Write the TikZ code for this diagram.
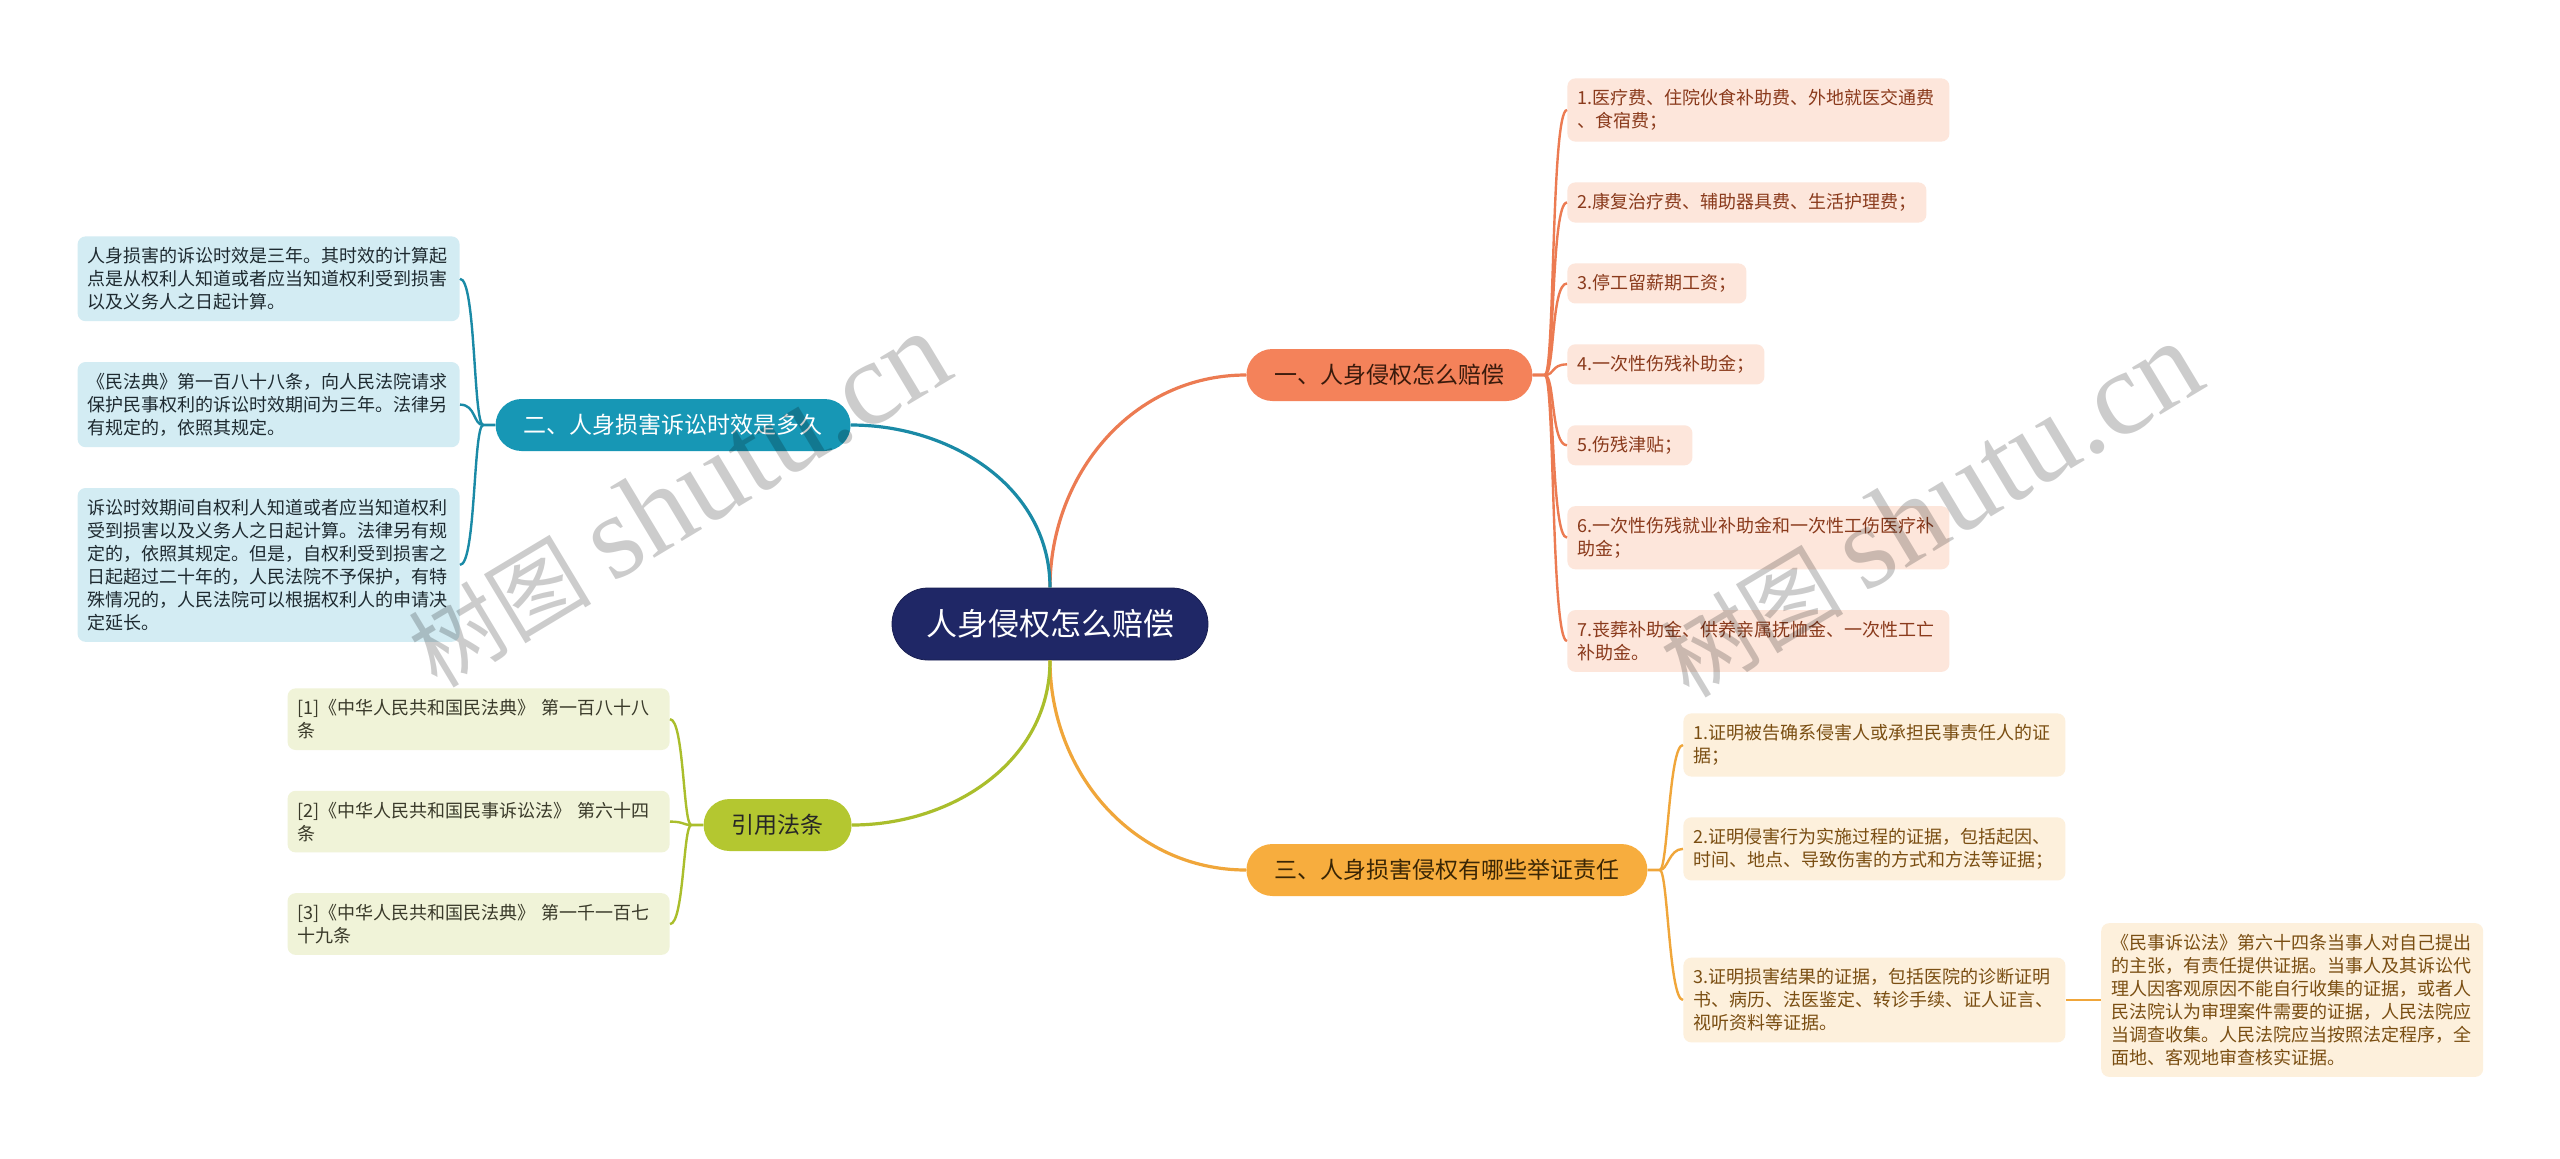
\documentclass[tikz,border=0pt]{standalone}
\usepackage{fontspec}
\setmainfont{Noto Sans CJK SC}
\newfontfamily\wmlatin{Liberation Serif}
\usetikzlibrary{positioning}
\definecolor{rootnavy}{HTML}{1F2766}
\definecolor{payfill}{HTML}{F4825A}
\definecolor{payline}{HTML}{EC7B52}
\definecolor{payleaf}{HTML}{FDE6DB}
\definecolor{paytext}{HTML}{8A3A1C}
\definecolor{paydark}{HTML}{3A1A0C}
\definecolor{termfill}{HTML}{1797B5}
\definecolor{termline}{HTML}{1A8AA6}
\definecolor{termleaf}{HTML}{D3ECF3}
\definecolor{termtext}{HTML}{1E2A30}
\definecolor{prooffill}{HTML}{F7AD3E}
\definecolor{proofline}{HTML}{F0A63A}
\definecolor{proofleaf}{HTML}{FDF0DC}
\definecolor{prooftext}{HTML}{7A4E12}
\definecolor{proofdark}{HTML}{3A2605}
\definecolor{citefill}{HTML}{B4C730}
\definecolor{citeline}{HTML}{AABE2C}
\definecolor{citeleaf}{HTML}{F0F3D8}
\definecolor{citetext}{HTML}{3A3A2A}
\hfuzz=20pt

\begin{document}
\begin{tikzpicture}[x=0.5pt, y=-0.5pt,
    root/.style={fill=rootnavy, draw=rootnavy!80!black, text=white, rounded corners=18pt,
                 minimum height=36pt, inner xsep=17pt, font=\fontsize{15.5}{18}\selectfont},
    br/.style={rounded corners=13pt, minimum height=26pt, inner xsep=14pt,
               font=\fontsize{11.5}{14}\selectfont},
    leaf/.style={rounded corners=4pt, align=left, inner xsep=5pt, inner ysep=5.5pt,
                 font=\fontsize{9}{11.5}\selectfont},
    wide/.style={leaf, text width=181pt},
    payc/.style={fill=payleaf, text=paytext},
    termc/.style={fill=termleaf, text=termtext},
    proofc/.style={fill=proofleaf, text=prooftext},
    citec/.style={fill=citeleaf, text=citetext},
    trunk/.style={line width=1.6pt},
    twig/.style={line width=1.2pt},
    wmark/.style={rotate=31, text=black, text opacity=0.2, font=\fontsize{46}{46}\selectfont}]
  \fill[white] (0,0) rectangle (2560,1158);
  \useasboundingbox (0,0) rectangle (2560,1158);

  % centre and main branches
  \node[root] (root) at (1050,624) {人身侵权怎么赔偿};
  \node[br, fill=payfill, text=paydark, anchor=west] (pay) at (1246,375) {一、人身侵权怎么赔偿};
  \node[br, fill=termfill, text=white, anchor=east] (term) at (851,425) {二、人身损害诉讼时效是多久};
  \node[br, fill=prooffill, text=proofdark, anchor=west] (proof) at (1246,870) {三、人身损害侵权有哪些举证责任};
  \node[br, fill=citefill, text=black!85, anchor=east] (cite) at (852,825) {引用法条};

  \draw[trunk, payline] (root.north) to[out=90, in=180] (pay.west);
  \draw[trunk, termline] (root.north) to[out=90, in=0] (term.east);
  \draw[trunk, proofline] (root.south) to[out=-90, in=180] (proof.west);
  \draw[trunk, citeline] (root.south) to[out=-90, in=0] (cite.east);

  % 一
  \node[wide, payc, anchor=north west] (p1) at (1567,78) {1.医疗费、住院伙食补助费、外地就医交通费\\、食宿费；};
  \node[leaf, payc, below=20pt of p1.south west, anchor=north west] (p2) {2.康复治疗费、辅助器具费、生活护理费；};
  \node[leaf, payc, below=20pt of p2.south west, anchor=north west] (p3) {3.停工留薪期工资；};
  \node[leaf, payc, below=20pt of p3.south west, anchor=north west] (p4) {4.一次性伤残补助金；};
  \node[leaf, payc, below=20pt of p4.south west, anchor=north west] (p5) {5.伤残津贴；};
  \node[wide, payc, below=20pt of p5.south west, anchor=north west] (p6) {6.一次性伤残就业补助金和一次性工伤医疗补\\助金；};
  \node[wide, payc, below=20pt of p6.south west, anchor=north west] (p7) {7.丧葬补助金、供养亲属抚恤金、一次性工亡\\补助金。};
  \foreach \i in {1,...,7}
    \draw[twig, payline] (pay.east) -- ++(12,0) .. controls +(10,0) and +(-16,0) .. (p\i.west);

  % 二
  \node[wide, termc, anchor=north east] (t1) at (460,236) {人身损害的诉讼时效是三年。其时效的计算起\\点是从权利人知道或者应当知道权利受到损害\\以及义务人之日起计算。};
  \node[wide, termc, below=20pt of t1.south east, anchor=north east] (t2) {《民法典》第一百八十八条，向人民法院请求\\保护民事权利的诉讼时效期间为三年。法律另\\有规定的，依照其规定。};
  \node[wide, termc, below=20pt of t2.south east, anchor=north east] (t3) {诉讼时效期间自权利人知道或者应当知道权利\\受到损害以及义务人之日起计算。法律另有规\\定的，依照其规定。但是，自权利受到损害之\\日起超过二十年的，人民法院不予保护，有特\\殊情况的，人民法院可以根据权利人的申请决\\定延长。};
  \foreach \i in {1,...,3}
    \draw[twig, termline] (term.west) -- ++(-12,0) .. controls +(-10,0) and +(16,0) .. (t\i.east);

  % 三
  \node[wide, proofc, anchor=north west] (e1) at (1683,713) {1.证明被告确系侵害人或承担民事责任人的证\\据；};
  \node[wide, proofc, below=20pt of e1.south west, anchor=north west] (e2) {2.证明侵害行为实施过程的证据，包括起因、\\时间、地点、导致伤害的方式和方法等证据；};
  \node[wide, proofc, anchor=west] (e3) at (1683,1000) {3.证明损害结果的证据，包括医院的诊断证明\\书、病历、法医鉴定、转诊手续、证人证言、\\视听资料等证据。};
  \node[wide, proofc, right=17.5pt of e3] (n1) {《民事诉讼法》第六十四条当事人对自己提出\\的主张，有责任提供证据。当事人及其诉讼代\\理人因客观原因不能自行收集的证据，或者人\\民法院认为审理案件需要的证据，人民法院应\\当调查收集。人民法院应当按照法定程序，全\\面地、客观地审查核实证据。};
  \foreach \i in {1,...,3}
    \draw[twig, proofline] (proof.east) -- ++(12,0) .. controls +(8,0) and +(-14,0) .. (e\i.west);
  \draw[twig, proofline] (e3.east) -- (n1.west);

  % 引用法条
  \node[wide, citec, anchor=north east] (c1) at (670,688) {[1]《中华人民共和国民法典》 第一百八十八\\条};
  \node[wide, citec, below=20pt of c1.south east, anchor=north east] (c2) {[2]《中华人民共和国民事诉讼法》 第六十四\\条};
  \node[wide, citec, below=20pt of c2.south east, anchor=north east] (c3) {[3]《中华人民共和国民法典》 第一千一百七\\十九条};
  \foreach \i in {1,...,3}
    \draw[twig, citeline] (cite.west) -- ++(-12,0) .. controls +(-8,0) and +(14,0) .. (c\i.east);

  % watermark
  \node[wmark] (wm1) at (678,500) {树图 {\wmlatin\fontsize{60}{60}\selectfont shutu.cn}};
  \node[wmark] (wm2) at (1930,510) {树图 {\wmlatin\fontsize{60}{60}\selectfont shutu.cn}};
\end{tikzpicture}
\end{document}
